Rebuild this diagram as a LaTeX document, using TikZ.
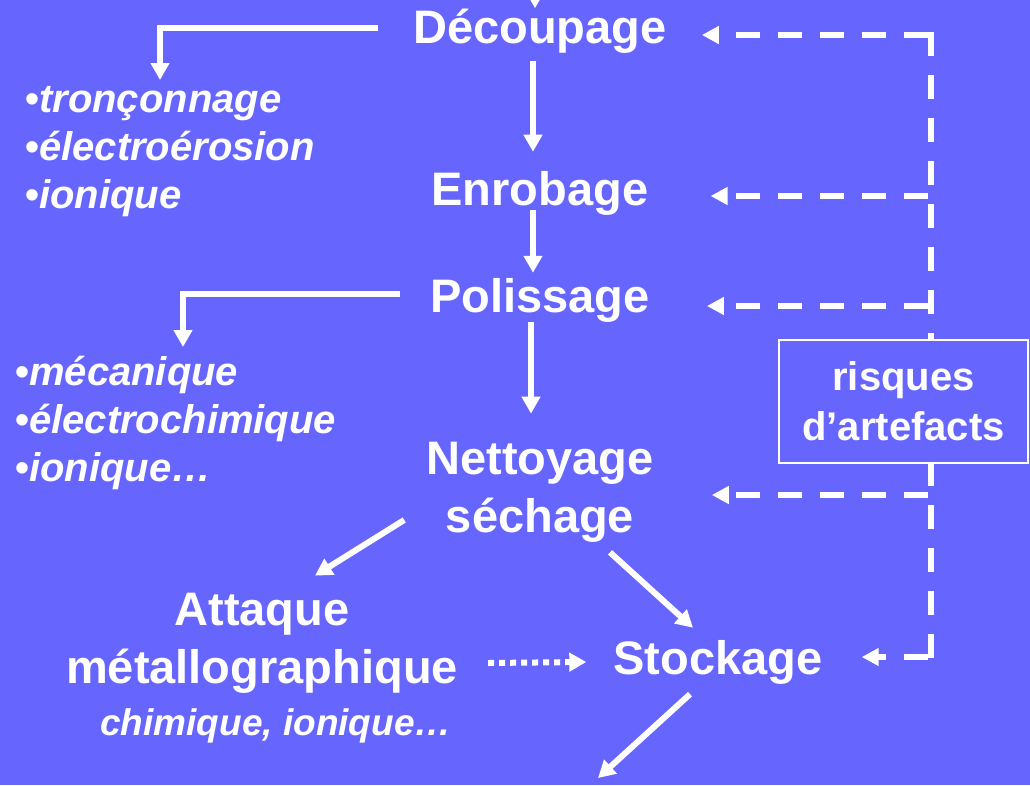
\documentclass[tikz,border=0pt]{standalone}
\usepackage{fontspec}
\setmainfont{Liberation Sans}
\usetikzlibrary{arrows.meta}
\definecolor{fond}{HTML}{6666FF}

\begin{document}
\begin{tikzpicture}[x=1pt,y=-1pt,
    etape/.style={text=white,font=\fontsize{47}{58}\selectfont\bfseries,align=center,inner sep=0pt},
    liste/.style={text=white,font=\fontsize{40}{48}\selectfont\bfseries\itshape,inner sep=0pt,anchor=base west},
    fleche/.style={white,line width=6pt,-{Triangle[length=17pt,width=18pt]}},
    retour/.style={white,line width=6pt,dash pattern=on 24pt off 18pt,-{Triangle[length=17pt,width=17pt]}},
    pointille/.style={white,line width=6pt,dash pattern=on 6pt off 5pt,-{Triangle[length=17pt,width=18pt]}}]
        \fill[fond] (0,0) rectangle (1030,785);
        \useasboundingbox (0,0) rectangle (1030,785);

        % etapes
        \node[etape,anchor=base] (dec) at (540,43) {Découpage};
        \node[etape,anchor=base] (enr) at (540,205) {Enrobage};
        \node[etape,anchor=base] (pol) at (540,312) {Polissage};
        \node[etape] (net) at (540,492) {Nettoyage\\séchage};
        \node[etape] (att) at (262,643) {Attaque\\métallographique};
        \node[text=white,font=\fontsize{37}{44}\selectfont\bfseries\itshape,anchor=base,inner sep=0pt] (chim) at (276,735) {chimique, ionique…};
        \node[etape,anchor=base] (sto) at (718,674) {Stockage};

        % procedes
        \foreach \t [count=\i] in {tronçonnage,électroérosion,ionique}
            \node[liste] (dcp\i) at (25,{64+48*\i}) {{\upshape•}\t};
        \foreach \t [count=\i] in {mécanique,électrochimique,ionique…}
            \node[liste] (pls\i) at (15,{337+48*\i}) {{\upshape•}\t};

        % fleches principales
        \coordinate (haut) at (535,-40);
        \draw[fleche] (haut) -- (haut |- dec.north);
        \draw[fleche,shorten <=8pt,shorten >=19pt] ([xshift=-7pt]dec.south) -- ([xshift=-7pt]enr.north);
        \draw[fleche,shorten <=-5pt,shorten >=5pt] ([xshift=-7pt]enr.south) -- ([xshift=-7pt]pol.north);
        \draw[fleche,shorten >=28pt] ([xshift=-9pt]pol.south) -- ([xshift=-9pt]net.north);
        \draw[fleche] ([shift={(-22,28)}]net.west) -- ([shift={(53,-17)}]att.north);
        \draw[fleche] ([shift={(70,10)}]net.south) -- ([shift={(-25,-12)}]sto.north);
        \draw[pointille] ([shift={(30,20)}]att.east) -- ([xshift=-27pt]sto.west);
        \coordinate (sortie) at (598,778);
        \draw[fleche] ([shift={(-28,10)}]sto.south) -- (sortie);

        % renvois vers les procedes
        \coordinate (c1) at (160,80);
        \draw[fleche,shorten <=35pt] ([yshift=3pt]dec.west) -| (c1);
        \coordinate (c2) at (183,347);
        \draw[fleche,shorten <=30pt] ([yshift=6pt]pol.west) -| (c2);

        % risques d'artefacts
        \draw[white,line width=6pt,dash pattern=on 24pt off 19pt] (931,32) -- (931,660);
        \foreach \n/\y/\s in {dec/35/35,enr/196/62,pol/306/57,net/495/58,sto/657/39} {
            \coordinate (r-\n) at (931,\y);
            \draw[retour,shorten >=\s pt] ([xshift=-3pt]r-\n) -- (r-\n -| \n.east);
        }
        \node[draw=white,line width=1.5pt,fill=fond,text=white,font=\fontsize{40}{50}\selectfont\bfseries,
            align=center,minimum width=249pt,minimum height=123pt] (risk) at (903.5,401.5) {risques\\d’artefacts};
    \end{tikzpicture}
\end{document}
